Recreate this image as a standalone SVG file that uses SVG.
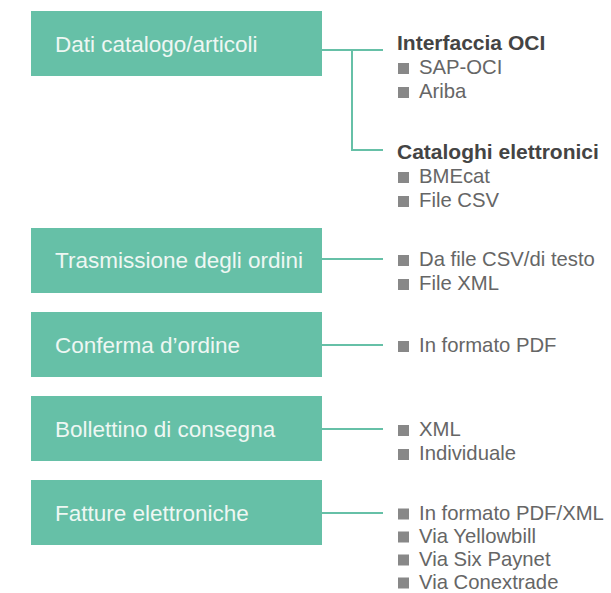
<svg xmlns="http://www.w3.org/2000/svg" width="611" height="593" viewBox="0 0 611 593">
<style>
.box{fill:#66c0a7}
.bt{font-family:"Liberation Sans",Arial,sans-serif;font-size:22.5px;fill:#eef7f3}
.hd{font-family:"Liberation Sans",Arial,sans-serif;font-size:21px;font-weight:bold;fill:#444}
.it{font-family:"Liberation Sans",Arial,sans-serif;font-size:20.3px;fill:#666}
.bl{fill:#888}
.cn{stroke:#66c0a7;stroke-width:2;fill:none}
</style>
<rect width="611" height="593" fill="#fff"/>
<g id="connectors">
<path class="cn" d="M322 50H383M352 50V150H383"/>
<path class="cn" d="M322 259H383"/>
<path class="cn" d="M322 345H383"/>
<path class="cn" d="M322 429H383"/>
<path class="cn" d="M322 513H383"/>
</g>
<g id="node-dati">
<rect class="box" x="31" y="11" width="291" height="65"/>
<text class="bt" x="55" y="52">Dati catalogo/articoli</text>
</g>
<g id="node-trasmissione">
<rect class="box" x="31" y="228" width="291" height="65"/>
<text class="bt" x="55" y="268">Trasmissione degli ordini</text>
</g>
<g id="node-conferma">
<rect class="box" x="31" y="312" width="291" height="65"/>
<text class="bt" x="55" y="352.5">Conferma d’ordine</text>
</g>
<g id="node-bollettino">
<rect class="box" x="31" y="396" width="291" height="65"/>
<text class="bt" x="55" y="436.5">Bollettino di consegna</text>
</g>
<g id="node-fatture">
<rect class="box" x="31" y="480" width="291" height="65"/>
<text class="bt" x="55" y="520.5">Fatture elettroniche</text>
</g>
<g id="list-oci">
<text class="hd" x="397" y="50">Interfaccia OCI</text>
<rect class="bl" x="398" y="63" width="11" height="11"/><text class="it" x="419" y="74">SAP-OCI</text>
<rect class="bl" x="398" y="87" width="11" height="11"/><text class="it" x="419" y="98">Ariba</text>
</g>
<g id="list-cataloghi">
<text class="hd" x="397" y="159">Cataloghi elettronici</text>
<rect class="bl" x="398" y="172" width="11" height="11"/><text class="it" x="419" y="183">BMEcat</text>
<rect class="bl" x="398" y="196" width="11" height="11"/><text class="it" x="419" y="207">File CSV</text>
</g>
<g id="list-trasmissione">
<rect class="bl" x="398" y="255" width="11" height="11"/><text class="it" x="419" y="266">Da file CSV/di testo</text>
<rect class="bl" x="398" y="279" width="11" height="11"/><text class="it" x="419" y="290">File XML</text>
</g>
<g id="list-conferma">
<rect class="bl" x="398" y="341" width="11" height="11"/><text class="it" x="419" y="352">In formato PDF</text>
</g>
<g id="list-bollettino">
<rect class="bl" x="398" y="425" width="11" height="11"/><text class="it" x="419" y="436">XML</text>
<rect class="bl" x="398" y="449" width="11" height="11"/><text class="it" x="419" y="460">Individuale</text>
</g>
<g id="list-fatture">
<rect class="bl" x="398" y="508.5" width="11" height="11"/><text class="it" x="419" y="519.5">In formato PDF/XML</text>
<rect class="bl" x="398" y="531.5" width="11" height="11"/><text class="it" x="419" y="542.5">Via Yellowbill</text>
<rect class="bl" x="398" y="554.5" width="11" height="11"/><text class="it" x="419" y="565.5">Via Six Paynet</text>
<rect class="bl" x="398" y="577.5" width="11" height="11"/><text class="it" x="419" y="588.5">Via Conextrade</text>
</g>
</svg>
